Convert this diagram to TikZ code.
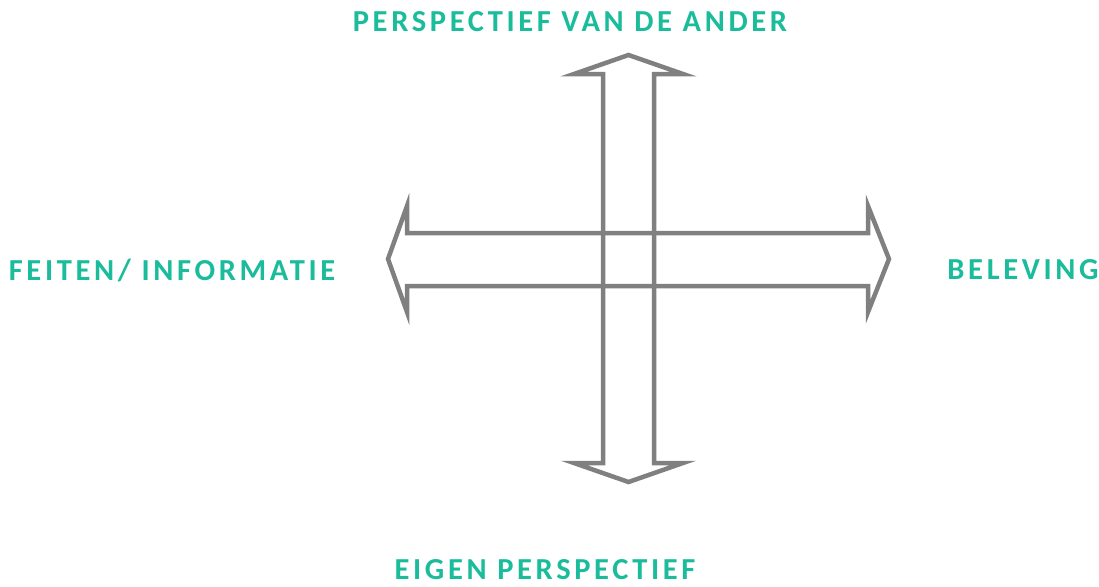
\documentclass[tikz,border=0pt]{standalone}
\usepackage{fontspec}
\newfontfamily\labelfont[LetterSpace=12]{Carlito}
\usetikzlibrary{positioning}
\definecolor{arrowgrey}{HTML}{808080}
\definecolor{teal}{HTML}{1ABC9C}

\begin{document}
\begin{tikzpicture}[x=1pt,y=-1pt,
    axis/.style={draw=arrowgrey,line width=4.5pt,line join=miter},
    lbl/.style={text=teal,font=\labelfont\bfseries\fontsize{30.5}{34}\selectfont,inner sep=0pt}]
  \useasboundingbox (0,0) rectangle (1099,586);
  % vertical axis
  \draw[axis] (628.5,55) -- (574,74) -- (603,74) -- (603,463) -- (574,463)
    -- (628.5,482) -- (683,463) -- (654,463) -- (654,74) -- (683,74) -- cycle;
  % horizontal axis
  \draw[axis] (388,259) -- (407,206) -- (407,233) -- (868,233) -- (868,206)
    -- (889,259) -- (868,312) -- (868,286) -- (407,286) -- (407,312) -- cycle;
  % labels
  \node[lbl] (ander) at (570,22) {PERSPECTIEF VAN DE ANDER};
  \node[lbl] (eigen) at (545,570) {EIGEN PERSPECTIEF};
  \node[lbl] (feiten) at (172,270) {FEITEN/ INFORMATIE};
  \node[lbl] (beleving) at (1023,270) {BELEVING};
\end{tikzpicture}
\end{document}
